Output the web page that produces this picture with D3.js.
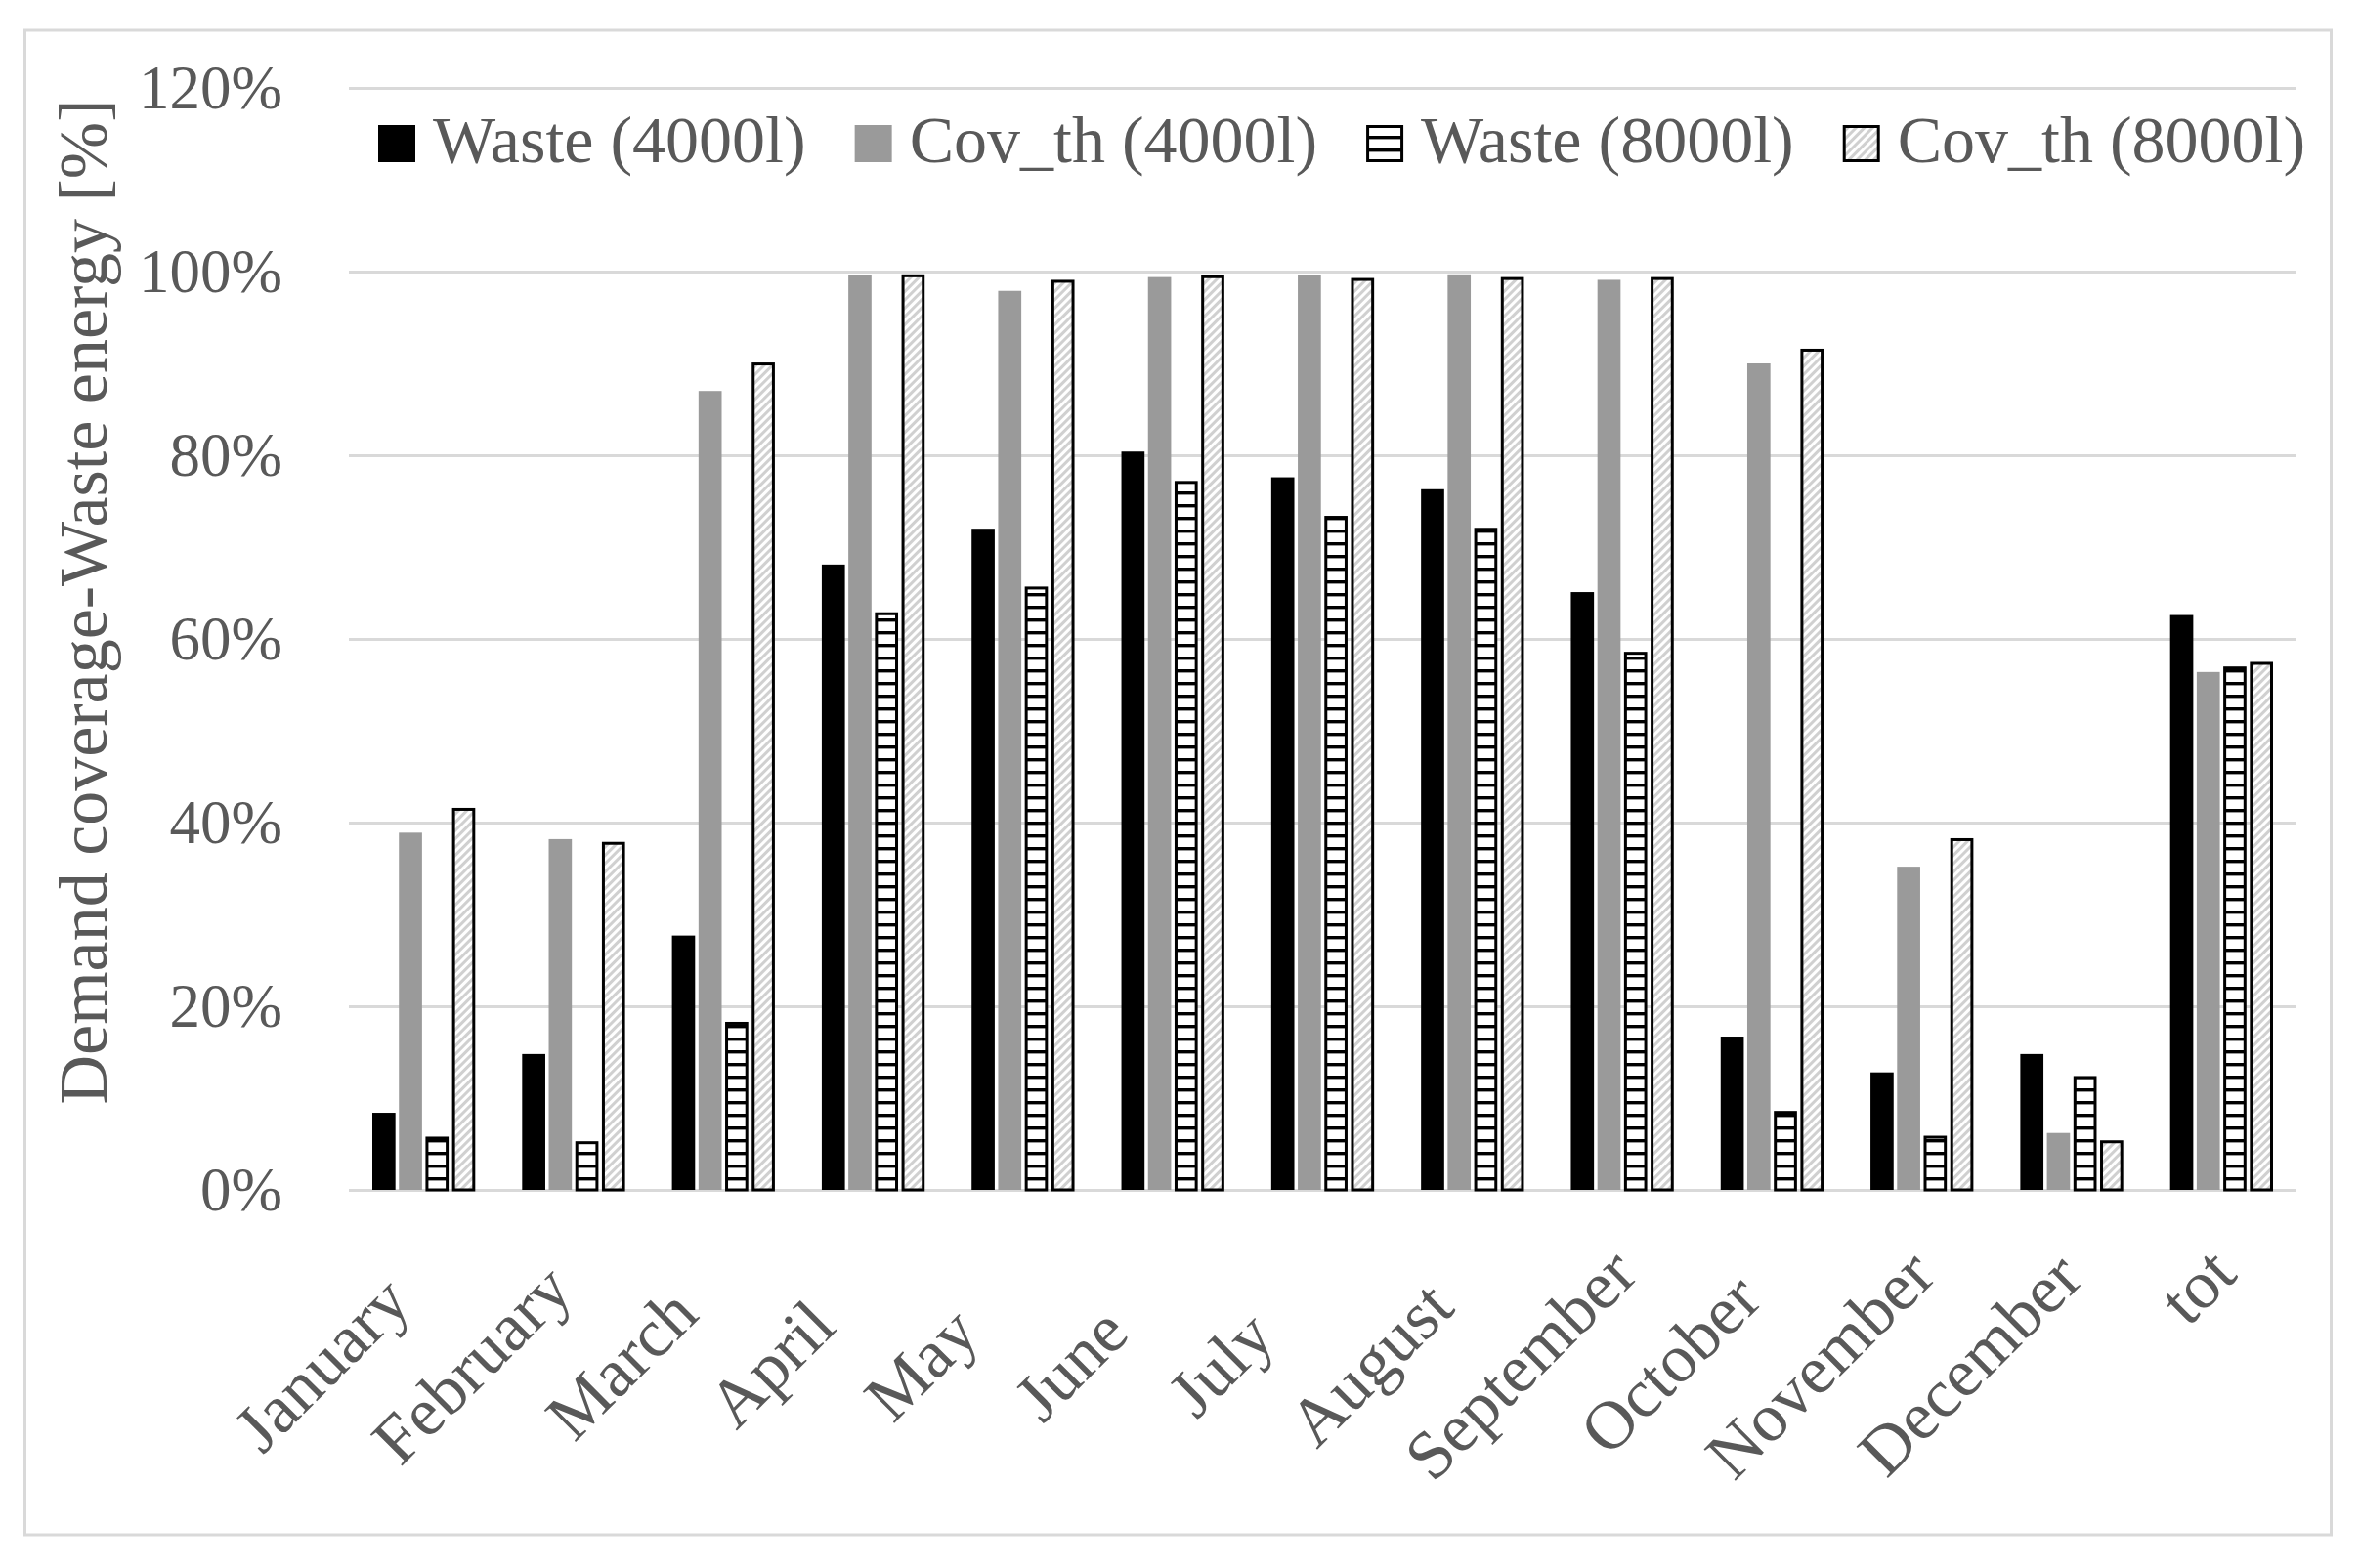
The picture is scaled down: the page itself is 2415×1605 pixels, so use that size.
<!DOCTYPE html>
<html>
<head>
<meta charset="utf-8">
<script src="https://cdn.jsdelivr.net/npm/d3@7"></script>
<style>
  html, body { margin: 0; padding: 0; background: #fff; }
  svg { display: block; }
</style>
</head>
<body>
<svg id="chart" width="2415" height="1605"></svg>
<script>
// data (percent)
var categories = ["January", "February", "March", "April", "May", "June", "July",
                  "August", "September", "October", "November", "December", "tot"]
var seriesNames = ["Waste (4000l)", "Cov_th (4000l)", "Waste (8000l)", "Cov_th (8000l)"]
var waste4000 = [8.4, 14.8, 27.7, 68.1, 72.0, 80.4, 77.6, 76.3, 65.1, 16.7, 12.8, 14.8, 62.6]
var cov4000   = [38.9, 38.2, 87.0, 99.6, 97.9, 99.4, 99.6, 99.7, 99.1, 90.0, 35.2, 6.2, 56.4]
var waste8000 = [5.8, 5.3, 18.3, 62.9, 65.7, 77.2, 73.4, 72.1, 58.6, 8.6, 5.9, 12.4, 57.0]
var cov8000   = [41.6, 37.9, 90.1, 99.7, 99.1, 99.6, 99.3, 99.4, 99.4, 91.6, 38.3, 5.4, 57.5]
var yTicks = [0, 20, 40, 60, 80, 100, 120]
var yTitle = "Demand coverage-Waste energy [%]"

var allSeries = [waste4000, cov4000, waste8000, cov8000]

var xleft = 357
var xright = 2350
var ytop = 90
var ybottom = 1218
var fontFam = "'Liberation Serif', 'Times New Roman', serif"
var textColor = "#595959"
var gridColor = "#d9d9d9"

var svg = d3.select("#chart")

// patterns
var defs = svg.append("defs")
var hPat = defs.append("pattern")
    .attr("id", "hlines")
    .attr("patternUnits", "userSpaceOnUse")
    .attr("width", 13)
    .attr("height", 13)
hPat.append("rect").attr("width", 13).attr("height", 13).attr("fill", "#fff")
hPat.append("rect").attr("x", 0).attr("y", 9).attr("width", 13).attr("height", 3).attr("fill", "#000")
hPat.append("rect").attr("x", 0).attr("y", 12).attr("width", 13).attr("height", 1).attr("fill", "#999")

var dPat = defs.append("pattern")
    .attr("id", "diag")
    .attr("patternUnits", "userSpaceOnUse")
    .attr("width", 6)
    .attr("height", 10)
    .attr("patternTransform", "rotate(45)")
dPat.append("rect").attr("width", 6).attr("height", 10).attr("fill", "#fff")
dPat.append("rect").attr("x", 0).attr("width", 3).attr("height", 10).attr("fill", "#d0d0d0")

var styles = [
    {fill: "#000000", stroke: "none"},
    {fill: "#9a9a9a", stroke: "none"},
    {fill: "url(#hlines)", stroke: "#000"},
    {fill: "url(#diag)", stroke: "#000"}
]

// chart border
svg.append("rect")
    .attr("x", 25.5).attr("y", 31)
    .attr("width", 2360).attr("height", 1540)
    .attr("fill", "none")
    .attr("stroke", gridColor)
    .attr("stroke-width", 3)

var x0 = d3.scaleBand()
    .domain(categories)
    .range([xleft, xright])
    .paddingInner(0.306)
    .paddingOuter(0.153)

var x1 = d3.scaleBand()
    .domain(d3.range(seriesNames.length))
    .range([0, x0.bandwidth()])
    .paddingInner(0.13)
    .paddingOuter(0.02)

var y = d3.scaleLinear()
    .domain([0, 120])
    .range([ybottom, ytop])

// gridlines + tick labels
var yAxis = d3.axisLeft(y)
    .tickValues(yTicks)
    .tickFormat(function(d) { return d + "%" })
    .tickSize(-(xright - xleft))
    .tickPadding(68)

var yaxisG = svg.append("g")
    .attr("transform", "translate(" + xleft + ",0)")
    .call(yAxis)
yaxisG.select(".domain").remove()
yaxisG.selectAll("line")
    .attr("stroke", gridColor)
    .attr("stroke-width", 3)
yaxisG.selectAll("text")
    .attr("fill", textColor)
    .attr("font-family", fontFam)
    .attr("font-size", "63px")
    .attr("dy", "0.33em")

// bars
var groups = svg.append("g").attr("id", "bars")
    .selectAll("g")
    .data(categories)
    .enter()
    .append("g")
    .attr("transform", function(d) { return "translate(" + x0(d) + ",0)" })

groups.selectAll("rect")
    .data(function(d, ci) { return allSeries.map(function(s, si) { return {si: si, v: s[ci]} }) })
    .enter()
    .append("rect")
    .attr("x", function(d) { return x1(d.si) + (styles[d.si].stroke == "none" ? 0 : 1.5) })
    .attr("y", function(d) { return y(d.v) + (styles[d.si].stroke == "none" ? 0 : 1.5) })
    .attr("width", function(d) { return x1.bandwidth() - (styles[d.si].stroke == "none" ? 0 : 3) })
    .attr("height", function(d) { return ybottom - y(d.v) - (styles[d.si].stroke == "none" ? 0 : 1.5) })
    .attr("fill", function(d) { return styles[d.si].fill })
    .attr("stroke", function(d) { return styles[d.si].stroke })
    .attr("stroke-width", 3)

// x labels: centred in a box as long as the longest label, box end at the tick
var xlab = svg.append("g").attr("id", "xlabels")
    .attr("fill", textColor)
    .attr("font-family", fontFam)
    .attr("font-size", "70px")
var labs = xlab.selectAll("text")
    .data(categories)
    .enter()
    .append("text")
    .text(function(d) { return d })
var maxLen = d3.max(labs.nodes(), function(n) { return n.getComputedTextLength() })
var s45 = Math.SQRT1_2
labs.each(function(d) {
    var ex = x0(d) + x0.bandwidth() / 2 + 18
    var ey = 1307
    var isTot = d === "tot"
    var mx = isTot ? ex : ex - s45 * maxLen / 2
    var my = isTot ? ey : ey + s45 * maxLen / 2
    d3.select(this)
        .attr("text-anchor", isTot ? "end" : "middle")
        .attr("transform", "translate(" + mx + "," + my + ") rotate(-45)")
})

// y title
svg.append("text")
    .attr("transform", "translate(109,616) rotate(-90)")
    .attr("text-anchor", "middle")
    .attr("fill", textColor)
    .attr("font-family", fontFam)
    .attr("font-size", "70px")
    .text(yTitle)

// legend
var legend = svg.append("g").attr("id", "legend")
var lx = 387
seriesNames.forEach(function(name, i) {
    var st = styles[i]
    legend.append("rect")
        .attr("x", lx + (st.stroke == "none" ? 0 : 1.5))
        .attr("y", 128 + (st.stroke == "none" ? 0 : 1.5))
        .attr("width", st.stroke == "none" ? 38 : 35)
        .attr("height", st.stroke == "none" ? 38 : 35)
        .attr("fill", st.fill)
        .attr("stroke", st.stroke)
        .attr("stroke-width", 3)
    var t = legend.append("text")
        .attr("x", lx + 56)
        .attr("y", 166)
        .attr("fill", textColor)
        .attr("font-family", fontFam)
        .attr("font-size", "68px")
        .text(name)
    lx = lx + 56 + t.node().getComputedTextLength() + 50
})
</script>
</body>
</html>
